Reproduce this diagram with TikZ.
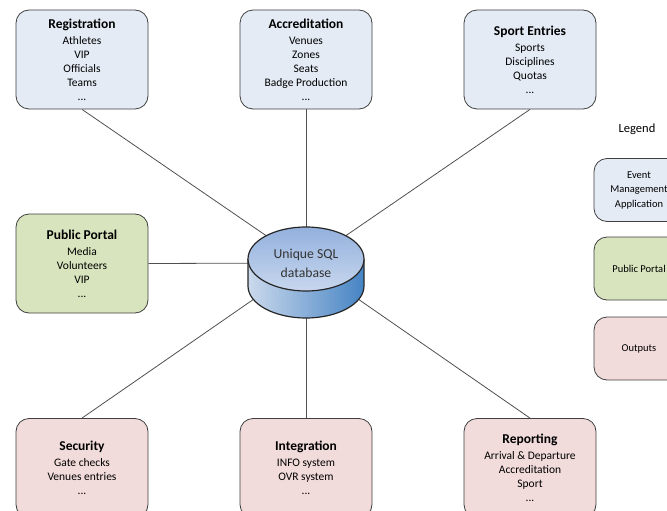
\documentclass[tikz,border=0pt]{standalone}
\usepackage{fontspec}
\setmainfont{Carlito}
\usetikzlibrary{backgrounds}

\definecolor{appblue}{HTML}{E4EBF5}
\definecolor{portalgreen}{HTML}{D7E4BD}
\definecolor{outpink}{HTML}{F2DCDB}
\definecolor{edgegray}{HTML}{3F3F3F}
\definecolor{linkgray}{HTML}{505050}
\definecolor{dbtopdark}{HTML}{93B1DD}
\definecolor{dbtoplight}{HTML}{C8D7EE}
\definecolor{dbsidelight}{HTML}{CBD9EC}
\definecolor{dbsidedark}{HTML}{4684C4}

\tikzset{
  module/.style={draw=edgegray, line width=0.8pt, rounded corners=13pt,
    minimum width=132pt, minimum height=99pt, align=center,
    font=\fontsize{11.5}{14}\selectfont, inner sep=0pt},
  appmod/.style={module, fill=appblue},
  portalmod/.style={module, fill=portalgreen},
  outmod/.style={module, fill=outpink},
  legendbox/.style={draw=edgegray, line width=0.8pt, rounded corners=13pt,
    minimum width=90pt, minimum height=63pt, align=center,
    font=\fontsize{10.5}{14.5}\selectfont, inner sep=0pt},
  link/.style={draw=linkgray, line width=0.8pt},
}
\newcommand{\modtitle}[1]{{\fontsize{13.5}{14}\selectfont\bfseries #1}\\[2pt]}

\begin{document}
\begin{tikzpicture}[x=1pt, y=1pt]
\useasboundingbox (0,0) rectangle (667,-511);

% event management modules
\node[appmod] (reg) at (82,-59.5) {\modtitle{Registration}Athletes\\VIP\\Officials\\Teams\\...};
\node[appmod] (acc) at (306,-59.5) {\modtitle{Accreditation}Venues\\Zones\\Seats\\Badge Production\\...};
\node[appmod] (sport) at (530,-59.5) {\modtitle{Sport Entries}Sports\\Disciplines\\Quotas\\...};

% public portal
\node[portalmod] (pub) at (82,-263.5) {\modtitle{Public Portal}Media\\Volunteers\\VIP\\...};

% outputs
\node[outmod] (sec) at (82,-468) {\modtitle{Security}Gate checks\\Venues entries\\...};
\node[outmod] (integ) at (306,-468) {\modtitle{Integration}INFO system\\OVR system\\...};
\node[outmod] (rep) at (530,-468) {\modtitle{Reporting}Arrival \& Departure\\Accreditation\\Sport\\...};

% central database cylinder
\shade[left color=dbsidelight, right color=dbsidedark]
  (248,-259) -- (248,-286) arc[start angle=180, end angle=360, x radius=58, y radius=32]
  -- (364,-259) arc[start angle=0, end angle=-180, x radius=58, y radius=32] -- cycle;
\draw[black!85, line width=1.2pt]
  (248,-259) -- (248,-286) arc[start angle=180, end angle=360, x radius=58, y radius=32]
  -- (364,-259);
\shade[top color=dbtopdark, bottom color=dbtoplight]
  (306,-259) ellipse[x radius=58, y radius=32];
\draw[black!85, line width=1.2pt] (306,-259) ellipse[x radius=58, y radius=32];
\node[align=center, font=\fontsize{13.7}{19}\selectfont, text=black!80] (db) at (306,-263)
  {Unique SQL\\database};

% connectors to the database
\begin{pgfonlayer}{background}
\draw[link] (reg.south) -- (db.center);
\draw[link] (acc.south) -- (db.center);
\draw[link] (sport.south) -- (db.center);
\draw[link] (pub.east) -- (db.center);
\draw[link] (sec.north) -- (db.center);
\draw[link] (integ.north) -- (db.center);
\draw[link] (rep.north) -- (db.center);
\end{pgfonlayer}

% legend
\node[font=\fontsize{12.5}{15}\selectfont] (legend) at (637,-129) {Legend};
\node[legendbox, fill=appblue] (lapp) at (639,-190) {Event\\Management\\Application};
\node[legendbox, fill=portalgreen] (lpub) at (639,-268.5) {Public Portal};
\node[legendbox, fill=outpink] (lout) at (639,-348.5) {Outputs};
\end{tikzpicture}
\end{document}
